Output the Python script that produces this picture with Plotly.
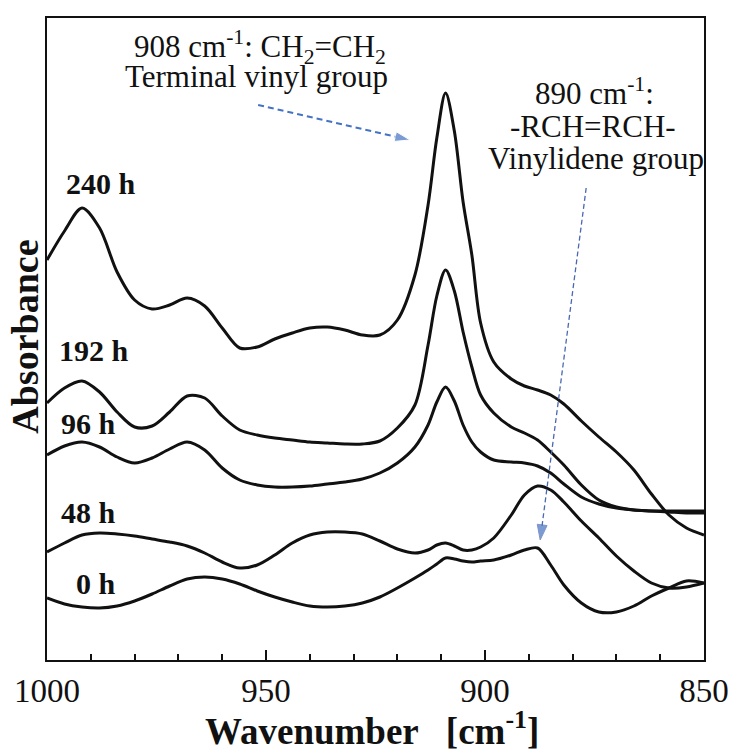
import plotly.graph_objects as go

# ---------------- data (arbitrary absorbance units) ----------------
wavenumber = [1000, 996, 992, 988, 984, 980, 976, 972, 968, 964, 960, 956, 952, 948, 944,
              940, 936, 932, 928, 924, 920, 916, 913, 911, 909, 907, 905, 903, 901, 898,
              894, 891, 888, 885, 882, 878, 874, 870, 866, 862, 858, 854, 850]

abs_240h = [4.00, 4.29, 4.52, 4.32, 3.88, 3.60, 3.51, 3.55, 3.62, 3.54, 3.32, 3.12, 3.13, 3.21, 3.27,
            3.32, 3.33, 3.30, 3.25, 3.25, 3.40, 3.85, 4.55, 5.22, 5.67, 5.29, 4.58, 4.05, 3.37, 2.98,
            2.81, 2.74, 2.70, 2.65, 2.56, 2.39, 2.23, 2.08, 1.90, 1.66, 1.45, 1.32, 1.25]
abs_192h = [2.57, 2.72, 2.79, 2.68, 2.48, 2.33, 2.34, 2.48, 2.64, 2.62, 2.44, 2.30, 2.25, 2.22, 2.20,
            2.18, 2.17, 2.16, 2.16, 2.19, 2.32, 2.55, 3.15, 3.64, 3.90, 3.69, 3.28, 2.93, 2.65, 2.47,
            2.33, 2.27, 2.20, 2.08, 1.95, 1.75, 1.60, 1.53, 1.50, 1.49, 1.49, 1.49, 1.49]
abs_96h = [2.05, 2.14, 2.18, 2.13, 2.03, 1.97, 2.02, 2.11, 2.18, 2.10, 1.92, 1.80, 1.75, 1.73, 1.73,
           1.74, 1.76, 1.78, 1.81, 1.87, 1.97, 2.13, 2.35, 2.58, 2.73, 2.59, 2.35, 2.18, 2.08, 2.00,
           1.98, 1.97, 1.94, 1.87, 1.76, 1.63, 1.56, 1.52, 1.50, 1.49, 1.48, 1.47, 1.47]
abs_48h = [1.08, 1.17, 1.25, 1.27, 1.26, 1.24, 1.21, 1.18, 1.14, 1.07, 0.98, 0.92, 0.95, 1.05, 1.17,
           1.25, 1.28, 1.28, 1.26, 1.19, 1.11, 1.07, 1.10, 1.15, 1.17, 1.14, 1.10, 1.10, 1.13, 1.22,
           1.45, 1.65, 1.74, 1.70, 1.58, 1.39, 1.22, 1.04, 0.89, 0.77, 0.72, 0.73, 0.77]
abs_0h = [0.62, 0.56, 0.53, 0.52, 0.54, 0.59, 0.66, 0.74, 0.81, 0.83, 0.81, 0.76, 0.69, 0.63, 0.58,
          0.54, 0.53, 0.54, 0.57, 0.63, 0.72, 0.82, 0.90, 0.96, 1.02, 1.01, 0.99, 0.98, 0.99, 1.00,
          1.05, 1.10, 1.12, 0.95, 0.75, 0.57, 0.48, 0.48, 0.54, 0.64, 0.72, 0.79, 0.77]

series_names = ["240 h", "192 h", "96 h", "48 h", "0 h"]
series_values = [abs_240h, abs_192h, abs_96h, abs_48h, abs_0h]

x_ticks = [1000, 950, 900, 850]

# label anchors (wavenumber, absorbance)
label_x = [987.7, 989.3, 990.6, 990.6, 988.8]
label_y = [4.77, 3.10, 2.37, 1.48, 0.77]

# arrows (tail -> tip)
arrow1_x = [951.8, 917.1]
arrow1_y = [5.55, 5.20]
arrow2_x = [876.9, 887.4]
arrow2_y = [4.72, 1.20]

SERIF = "Liberation Serif, Times New Roman, serif"

fig = go.Figure()
for name, vals in zip(series_names, series_values):
    fig.add_trace(go.Scatter(x=wavenumber, y=vals, mode="lines", name=name,
                             line=dict(color="#111111", width=3, shape="spline", smoothing=0.9),
                             showlegend=False, hoverinfo="skip"))

fig.add_trace(go.Scatter(x=arrow1_x, y=arrow1_y, mode="lines+markers", showlegend=False,
                         line=dict(color="#4472C4", width=2, dash="6px,4px"),
                         marker=dict(symbol="arrow", size=[0, 16], angleref="previous",
                                     color="#4472C4"),
                         hoverinfo="skip"))
fig.add_trace(go.Scatter(x=arrow2_x, y=arrow2_y, mode="lines+markers", showlegend=False,
                         line=dict(color="#4a68b0", width=1.3, dash="5px,3px"),
                         marker=dict(symbol="arrow", size=[0, 16], angleref="previous",
                                     color="#4472C4"),
                         hoverinfo="skip"))

annotations = []
for name, lx, ly in zip(series_names, label_x, label_y):
    annotations.append(dict(x=lx, y=ly, xref="x", yref="y", text="<b>%s</b>" % name,
                            showarrow=False, font=dict(family=SERIF, size=30, color="#111111"),
                            xanchor="center", yanchor="middle"))

text_lines = [
    ("908 cm<sup>-1</sup>: CH<sub>2</sub>=CH<sub>2</sub>", 951.4, 6.13),
    ("Terminal vinyl group", 952.1, 5.84),
    ("890 cm<sup>-1</sup>:", 875.1, 5.69),
    ("-RCH=RCH-", 875.3, 5.34),
    ("Vinylidene group", 874.7, 5.02),
]
for t, tx, ty in text_lines:
    annotations.append(dict(x=tx, y=ty, xref="x", yref="y", text=t, showarrow=False,
                            font=dict(family=SERIF, size=31, color="#111111"),
                            xanchor="center", yanchor="middle"))

annotations.append(dict(x=-0.034, y=0.503, xref="paper", yref="paper",
                        text="<b>Absorbance</b>", textangle=-90, showarrow=False,
                        font=dict(family=SERIF, size=38, color="#111111"),
                        xanchor="center", yanchor="middle"))
annotations.append(dict(x=0.494, y=-0.106, xref="paper", yref="paper",
                        text="<b>Wavenumber   [cm<sup>-1</sup>]</b>", showarrow=False,
                        font=dict(family=SERIF, size=37, color="#111111"),
                        xanchor="center", yanchor="middle"))

fig.update_layout(
    width=731, height=755,
    margin=dict(l=47, r=27, t=18, b=95, autoexpand=False),
    paper_bgcolor="white", plot_bgcolor="white",
    annotations=annotations,
    xaxis=dict(range=[1000, 850], showline=True, linecolor="#111111", linewidth=2, mirror=True,
               automargin=False,
               ticks="inside", tickmode="array", tickvals=x_ticks, ticklen=10, tickwidth=1.5,
               tickcolor="#111111",
               minor=dict(ticks="inside", ticklen=6, tickwidth=1.5, dtick=10, tick0=850,
                          tickcolor="#111111", showgrid=False),
               tickfont=dict(family=SERIF, size=33, color="#111111"),
               ticklabelstandoff=0,
               showgrid=False, zeroline=False),
    yaxis=dict(range=[0, 6.42], showline=True, linecolor="#111111", linewidth=2, mirror=True,
               automargin=False,
               ticks="", showticklabels=False, showgrid=False, zeroline=False),
)

fig.write_html("out.html")
